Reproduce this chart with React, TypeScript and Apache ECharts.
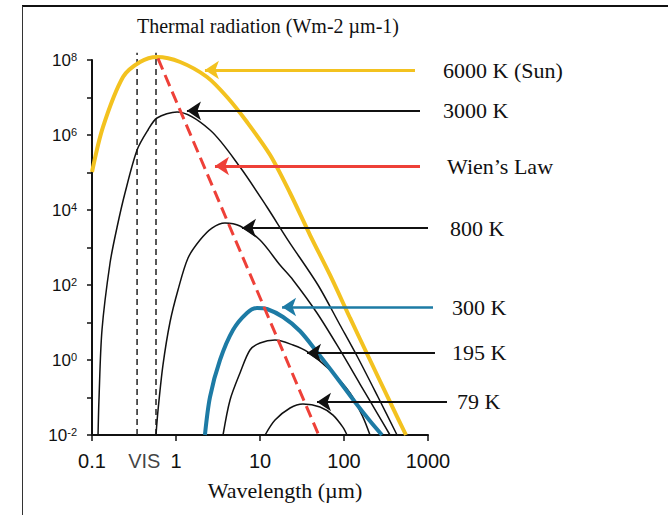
import React, { useEffect, useRef } from 'react';
import * as echarts from 'echarts';

// ---- data (wavelength in µm, radiation in W m-2 µm-1) ----
const sunWavelength = [0.1, 0.135, 0.234, 0.373, 0.594, 1.12, 2.34, 4.05, 7.0, 13.2, 22.8, 39.4, 68.1, 118, 204, 353, 547];
const sunRadiation = [1.03e5, 1.63e6, 3.52e7, 8.85e7, 1.2e8, 8.85e7, 3.52e7, 1.03e7, 2.22e6, 2.93e5, 2.84e4, 2150, 185, 13.2, 1, 0.076, 0.01];

const k3000Wavelength = [0.118, 0.121, 0.1315, 0.164, 0.199, 0.247, 0.344, 0.464, 0.594, 1.03, 2.54, 5.78, 12.1, 21.5, 49.0, 89.6, 147, 254, 428];
const k3000Radiation = [0.01, 0.086, 6.3, 386, 3520, 2.84e4, 3.98e5, 1.36e6, 2.84e6, 4.1e6, 1.36e6, 1.4e5, 1.2e4, 1580, 100, 8.58, 1.13, 0.103, 0.01];

const k800Wavelength = [0.578, 0.611, 0.7, 0.849, 1.056, 1.39, 1.93, 2.68, 3.83, 5.78, 10, 17.3, 24.7, 47.7, 89.6, 155, 247, 353];
const k800Radiation = [0.01, 0.046, 0.74, 10.3, 73.6, 525, 1580, 3300, 4500, 3740, 1580, 341, 136, 17.9, 1.85, 0.229, 0.039, 0.01];

const k300Wavelength = [2.21, 2.54, 3.34, 4.77, 7.0, 9.21, 12.1, 18.8, 29.9, 47.7, 82.6, 135, 204, 283];
const k300Radiation = [0.01, 0.103, 1, 6.3, 17.9, 24.4, 22.9, 14.0, 5.93, 1.63, 0.331, 0.076, 0.0236, 0.01];

const k195Wavelength = [3.63, 4.4, 5.78, 7.6, 10, 15.1, 24.7, 37.3, 68.1, 118, 168, 204];
const k195Radiation = [0.01, 0.086, 0.45, 1.85, 2.84, 3.41, 2.51, 1.63, 0.54, 0.132, 0.03, 0.01];

const k79Wavelength = [11.5, 15.1, 22.8, 32.5, 51.8, 74, 97.3, 108.6];
const k79Radiation = [0.01, 0.025, 0.0525, 0.067, 0.056, 0.034, 0.016, 0.01];

const wienWavelength = [0.61, 49];
const wienRadiation = [1.1e8, 0.011];

const visEdges = [0.344, 0.578];
const visSpan = [0.01, 1.55e8];
const visLabelAt = 0.42;

const arrowLabels = ['6000 K (Sun)', '3000 K', 'Wien\u2019s Law', '800 K', '300 K', '195 K', '79 K'];
const arrowTail = [700, 803, 803, 1000, 1147, 1211, 1683];
const arrowHead = [2.21, 1.35, 2.91, 6.1, 18.3, 36.3, 47.7];
const arrowLevel = [5.4e7, 4.4e6, 1.49e5, 3300, 25.9, 1.54, 0.076];

const xTicks = [0.1, 1, 10, 100, 1000];
const yExponentRange = [-2, 8];

const SANS = "'Liberation Sans Narrow', 'Arial Narrow', 'Liberation Sans', Arial, sans-serif";
const SERIF = "'Liberation Serif', 'Times New Roman', serif";
const YELLOW = '#F3C21F';
const BLUE = '#1D7BA5';
const RED = '#EE4038';
const INK = '#111111';

const arrowColor = [YELLOW, INK, RED, INK, BLUE, INK, INK];
const arrowWidth = [3, 2.2, 3, 2.2, 2.5, 2.2, 2.2];
const labelGap = [28, 23, 27, 22, 19, 17, 10];

const pairs = (xs: number[], ys: number[]) => xs.map((x, i) => [x, ys[i]]);

export default function App() {
  const ref = useRef<HTMLDivElement>(null);

  useEffect(() => {
    if (!ref.current) return;
    const chart = echarts.init(ref.current, undefined, { renderer: 'svg' });

    const curve = (name: string, xs: number[], ys: number[], color: string, width: number, z = 2) => ({
      name,
      type: 'line',
      data: pairs(xs, ys),
      showSymbol: false,
      symbol: 'none',
      smooth: 0.3,
      clip: false,
      z,
      lineStyle: { color, width },
    });

    const arrows = arrowLabels.map((label, i) => ({
      type: 'lines',
      coordinateSystem: 'cartesian2d',
      clip: false,
      z: 10,
      symbol: ['none', 'arrow'],
      symbolSize: [10, 14],
      lineStyle: { color: arrowColor[i], width: arrowWidth[i], opacity: 1, curveness: 0 },
      label: {
        show: true,
        position: 'start',
        distance: labelGap[i],
        formatter: '{b}',
        fontFamily: SERIF,
        fontSize: 22,
        color: INK,
      },
      data: [
        {
          name: label,
          coords: [
            [arrowTail[i], arrowLevel[i]],
            [arrowHead[i], arrowLevel[i]],
          ],
        },
      ],
    }));

    const option: any = {
      animation: false,
      backgroundColor: '#ffffff',
      title: {
        text: 'Thermal radiation (Wm-2 \u00b5m-1)',
        left: 137,
        top: 16,
        padding: 0,
        textStyle: { fontFamily: SERIF, fontSize: 20, fontWeight: 'normal', color: INK },
      },
      grid: { left: 92, right: 240, top: 60, bottom: 80 },
      xAxis: {
        type: 'log',
        logBase: 10,
        min: xTicks[0],
        max: xTicks[xTicks.length - 1],
        interval: 1,
        name: 'Wavelength (\u00b5m)',
        nameLocation: 'middle',
        nameGap: 44,
        nameTextStyle: { fontFamily: SERIF, fontSize: 22, color: INK, padding: [0, 0, 0, 50] },
        axisLine: { lineStyle: { color: INK, width: 2 } },
        axisTick: { show: true, inside: false, length: 6, lineStyle: { color: INK, width: 1.5 } },
        splitLine: { show: false },
        axisLabel: {
          margin: 16,
          fontFamily: SANS,
          fontSize: 20,
          color: INK,
          formatter: (v: number) => (v < 1 ? v.toFixed(1) : String(Math.round(v))),
        },
      },
      yAxis: {
        type: 'log',
        logBase: 10,
        min: Math.pow(10, yExponentRange[0]),
        max: Math.pow(10, yExponentRange[1]),
        interval: 1,
        axisLine: { lineStyle: { color: INK, width: 2 } },
        axisTick: { show: true, inside: false, length: 5, lineStyle: { color: INK, width: 1.5 } },
        splitLine: { show: false },
        axisLabel: {
          margin: 15,
          color: INK,
          formatter: (v: number) => {
            const e = Math.round(Math.log10(v));
            return e % 2 === 0 ? `{b|10}{s|${e}}` : '';
          },
          rich: {
            b: { fontFamily: SANS, fontSize: 17, color: INK },
            s: { fontFamily: SANS, fontSize: 11, color: INK, verticalAlign: 'top' },
          },
        },
      },
      graphic: [
        { type: 'line', silent: true, shape: { x1: 22, y1: 6, x2: 668, y2: 6 }, style: { stroke: INK, lineWidth: 2 } },
        { type: 'line', silent: true, shape: { x1: 22.5, y1: 6, x2: 22.5, y2: 515 }, style: { stroke: '#333', lineWidth: 1 } },
      ],
      series: [
        ...visEdges.map((edge) => ({
          type: 'line',
          data: [
            [edge, visSpan[0]],
            [edge, visSpan[1]],
          ],
          showSymbol: false,
          symbol: 'none',
          clip: false,
          z: 1,
          lineStyle: { color: '#222', width: 1.5, type: [6, 4] },
        })),
        curve('3000 K', k3000Wavelength, k3000Radiation, INK, 1.5),
        curve('800 K', k800Wavelength, k800Radiation, INK, 1.5),
        curve('195 K', k195Wavelength, k195Radiation, INK, 1.5),
        curve('79 K', k79Wavelength, k79Radiation, INK, 1.5),
        curve('300 K', k300Wavelength, k300Radiation, BLUE, 4, 3),
        curve('6000 K (Sun)', sunWavelength, sunRadiation, YELLOW, 4, 4),
        {
          name: 'Wien\u2019s Law',
          type: 'line',
          data: pairs(wienWavelength, wienRadiation),
          showSymbol: false,
          symbol: 'none',
          clip: false,
          z: 5,
          lineStyle: { color: RED, width: 3, type: [12, 6] },
        },
        {
          type: 'scatter',
          data: [[visLabelAt, visSpan[0]]],
          symbolSize: 0,
          clip: false,
          silent: true,
          label: {
            show: true,
            position: 'bottom',
            distance: 16,
            formatter: 'VIS',
            fontFamily: SANS,
            fontSize: 20,
            color: INK,
          },
        },
        ...arrows,
      ],
    };

    chart.setOption(option);
    return () => chart.dispose();
  }, []);

  return (
    <div style={{ position: 'fixed', left: 0, top: 0, width: 668, height: 515, background: '#fff' }}>
      <div ref={ref} style={{ width: 668, height: 515 }} />
    </div>
  );
}
